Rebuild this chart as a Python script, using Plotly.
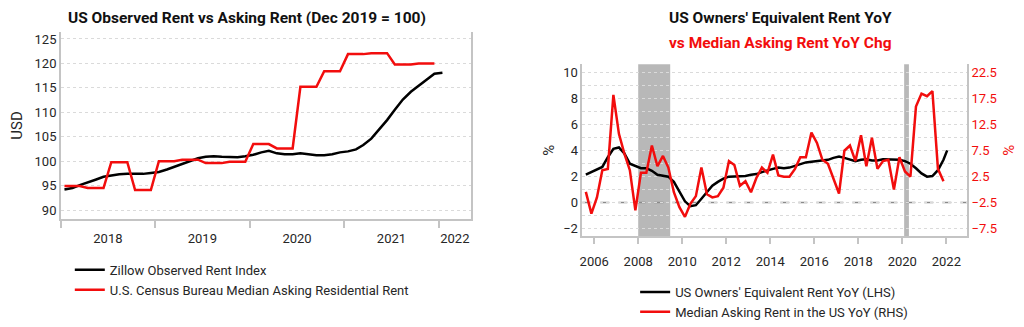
import pandas as pd
import plotly.graph_objects as go

# ---------------- Left chart data (monthly, Jan 2018 onward) ----------------
left_dates = pd.date_range("2018-01-01", periods=49, freq="MS") + pd.Timedelta(days=14)
zillow = [94.2, 94.5, 95.1, 95.6, 96.2, 96.8, 97.1, 97.3, 97.4, 97.4, 97.4, 97.6,
          97.8, 98.3, 98.8, 99.4, 100.0, 100.6, 100.9, 101.0, 100.9, 100.8, 100.8, 101.0,
          101.3, 101.8, 102.1, 101.6, 101.4, 101.4, 101.6, 101.4, 101.2, 101.2, 101.4, 101.8,
          102.0, 102.4, 103.3, 104.6, 106.4, 108.4, 110.5, 112.6, 114.2, 115.4, 116.6, 117.9,
          118.1]
census = [94.9, 94.9, 94.9, 94.5, 94.5, 94.5, 99.8, 99.8, 99.8, 94.1, 94.1, 94.1,
          100.0, 100.0, 100.0, 100.3, 100.3, 100.3, 99.6, 99.6, 99.6, 99.9, 99.9, 99.9,
          103.5, 103.5, 103.5, 102.6, 102.6, 102.6, 115.2, 115.2, 115.2, 118.4, 118.4, 118.4,
          121.9, 121.9, 121.9, 122.1, 122.1, 122.1, 119.8, 119.8, 119.8, 120.0, 120.0, 120.0]
left_tick_labels = ["2018", "2019", "2020", "2021", "2022"]
left_tick_pos = ["2018-07-02", "2019-07-02", "2020-07-02", "2021-07-02", "2022-03-04"]

# ---------------- Right chart data (quarterly, Q3 2005 onward) ----------------
right_dates = pd.date_range("2005-08-01", periods=66, freq="3MS") + pd.Timedelta(days=14)
oer_dates = list(right_dates) + [pd.Timestamp("2022-01-15")]
oer_yoy = [2.15, 2.35, 2.5, 2.75, 3.5, 4.15, 4.25, 3.8, 3.0, 2.8,
           2.65, 2.65, 2.45, 2.15, 2.05, 2.0, 1.6, 0.9, 0.1, -0.28,
           -0.2, 0.3, 0.78, 1.3, 1.6, 1.85, 2.0, 2.0, 2.05, 2.05,
           2.15, 2.2, 2.35, 2.5, 2.6, 2.7, 2.65, 2.7, 2.85, 3.0,
           3.1, 3.15, 3.2, 3.25, 3.3, 3.45, 3.55, 3.45, 3.3, 3.2,
           3.3, 3.35, 3.25, 3.25, 3.35, 3.35, 3.33, 3.3, 3.2, 3.0,
           2.65, 2.25, 2.0, 2.05, 2.5, 3.3, 4.03]
asking_yoy = [-0.43, -4.63, -1.5, 3.75, 4.0, 18.25, 10.75, 7.0, 3.75, -4.0,
              3.25, 3.25, 8.5, 4.5, 6.5, 4.25, -0.5, -3.38, -5.25, -2.75,
              -1.25, 4.25, -0.88, -1.5, -1.25, 0.38, 5.5, 4.75, 0.75, 1.63,
              -0.5, 2.25, 4.25, 3.25, 6.75, 2.75, 2.5, 2.5, 4.0, 6.25,
              6.25, 11.0, 9.0, 5.75, 5.0, 2.25, -0.75, 7.5, 8.5, 5.5,
              10.5, 4.5, 10.0, 4.0, 5.5, 5.75, 0.0, 6.25, 3.5, 2.5,
              16.0, 18.5, 18.0, 19.0, 4.0, 1.63]
recessions = [("2008-01-01", "2009-06-15"), ("2020-02-01", "2020-04-20")]
rhs_tick_vals = [-7.5, -2.5, 2.5, 7.5, 12.5, 17.5, 22.5]

RED = "#f20d0d"
GRID = "#dadada"
AXIS = "#c4c4c4"
FONT = "Roboto"
TXT = "#262626"

fig = go.Figure()
fig.add_trace(go.Scatter(x=left_dates, y=zillow, mode="lines", name="Zillow Observed Rent Index",
                         line=dict(color="#000000", width=2.5), xaxis="x", yaxis="y", legend="legend"))
fig.add_trace(go.Scatter(x=left_dates[:len(census)], y=census, mode="lines",
                         name="U.S. Census Bureau Median Asking Residential Rent",
                         line=dict(color=RED, width=2.5), xaxis="x", yaxis="y", legend="legend"))
fig.add_trace(go.Scatter(x=oer_dates, y=oer_yoy, mode="lines", name="US Owners' Equivalent Rent YoY (LHS)",
                         line=dict(color="#000000", width=2.5), xaxis="x2", yaxis="y2", legend="legend2"))
fig.add_trace(go.Scatter(x=right_dates, y=asking_yoy, mode="lines", name="Median Asking Rent in the US YoY (RHS)",
                         line=dict(color=RED, width=2.5), xaxis="x2", yaxis="y3", legend="legend2"))

shapes = []
for a, b in recessions:
    shapes.append(dict(type="rect", xref="x2", yref="y2 domain", x0=a, x1=b, y0=0, y1=1,
                       fillcolor="#b8b8b8", line=dict(width=0), layer="below"))
shapes.append(dict(type="line", xref="x2 domain", yref="y2", x0=0, x1=1, y0=0, y1=0,
                   line=dict(color="#8a8a8a", width=1.5, dash="dash"), layer="below"))

fig.update_layout(
    width=1024, height=327,
    margin=dict(l=0, r=0, t=0, b=0),
    paper_bgcolor="white", plot_bgcolor="white",
    font=dict(family=FONT, size=13, color=TXT),
    showlegend=True,
    shapes=shapes,
    xaxis=dict(domain=[58/1024, 469/1024], anchor="y", type="date",
               range=["2018-01-01", "2022-05-04"],
               tickmode="array", tickvals=left_tick_pos, ticktext=left_tick_labels,
               ticks="", showgrid=False, showline=True, linecolor=AXIS, linewidth=1.5,
               ticklabelstandoff=7,
               minor=dict(ticks="outside", ticklen=7, tickcolor=AXIS, tickwidth=1.5,
                          dtick="M12", tick0="2018-01-01", showgrid=False),
               tickfont=dict(size=13, color=TXT), zeroline=False),
    yaxis=dict(domain=[(327-224)/327, (327-32)/327], anchor="x",
               range=[88.2, 126.4], dtick=5, tick0=90,
               showgrid=True, gridcolor=GRID, griddash="dot", gridwidth=1,
               showline=True, linecolor=AXIS, linewidth=1.5, mirror=True,
               zeroline=False, ticks="",
               title=dict(text="USD", font=dict(size=15, color=TXT), standoff=8),
               tickfont=dict(size=13, color=TXT)),
    xaxis2=dict(domain=[581/1024, 967/1024], anchor="y2", type="date",
                range=["2005-06-17", "2022-12-13"],
                dtick="M24", tick0="2006-01-01", tickformat="%Y",
                ticks="outside", ticklen=6, tickcolor=AXIS, tickwidth=1.5,
                ticklabelstandoff=6,
                showgrid=False, showline=True, linecolor=AXIS, linewidth=1.5,
                tickfont=dict(size=13, color=TXT), zeroline=False),
    yaxis2=dict(domain=[85/327, 262/327], anchor="x2",
                range=[-2.6, 10.67], dtick=2, tick0=0,
                showgrid=True, gridcolor=GRID, griddash="dot", gridwidth=1,
                minor=dict(dtick=1, tick0=0, showgrid=True, gridcolor=GRID, griddash="dot", gridwidth=1),
                showline=True, linecolor=AXIS, linewidth=1.5,
                zeroline=False, ticks="",
                title=dict(text="%", font=dict(size=15, color=TXT), standoff=5),
                tickfont=dict(size=13, color=TXT)),
    yaxis3=dict(overlaying="y2", side="right", anchor="x2",
                range=[-9.0, 24.17], tickmode="array", tickvals=rhs_tick_vals,
                showgrid=False, showline=True, linecolor=AXIS, linewidth=1.5,
                zeroline=False, ticks="",
                title=dict(text="%", font=dict(size=15, color=RED), standoff=8),
                tickfont=dict(size=13, color=RED)),
    legend=dict(x=67/1024, y=(327-261)/327, xanchor="left", yanchor="top",
                bgcolor="rgba(0,0,0,0)", font=dict(size=13, color=TXT),
                tracegroupgap=0, itemwidth=30),
    legend2=dict(x=634/1024, y=(327-284)/327, xanchor="left", yanchor="top",
                 bgcolor="rgba(0,0,0,0)", font=dict(size=13, color=TXT),
                 tracegroupgap=0, itemwidth=30),
    annotations=[
        dict(text="<b>US Observed Rent vs Asking Rent (Dec 2019 = 100)</b>", xref="paper", yref="paper",
             x=245/1024, y=(327-17)/327, xanchor="center", yanchor="middle", showarrow=False,
             font=dict(size=15.5, color="#111111")),
        dict(text="<b>US Owners' Equivalent Rent YoY</b>", xref="paper", yref="paper",
             x=780/1024, y=(327-17)/327, xanchor="center", yanchor="middle", showarrow=False,
             font=dict(size=15.5, color="#111111")),
        dict(text="<b>vs Median Asking Rent YoY Chg</b>", xref="paper", yref="paper",
             x=780/1024, y=(327-43)/327, xanchor="center", yanchor="middle", showarrow=False,
             font=dict(size=15.5, color=RED)),
    ],
)

fig.write_html("out.html")
